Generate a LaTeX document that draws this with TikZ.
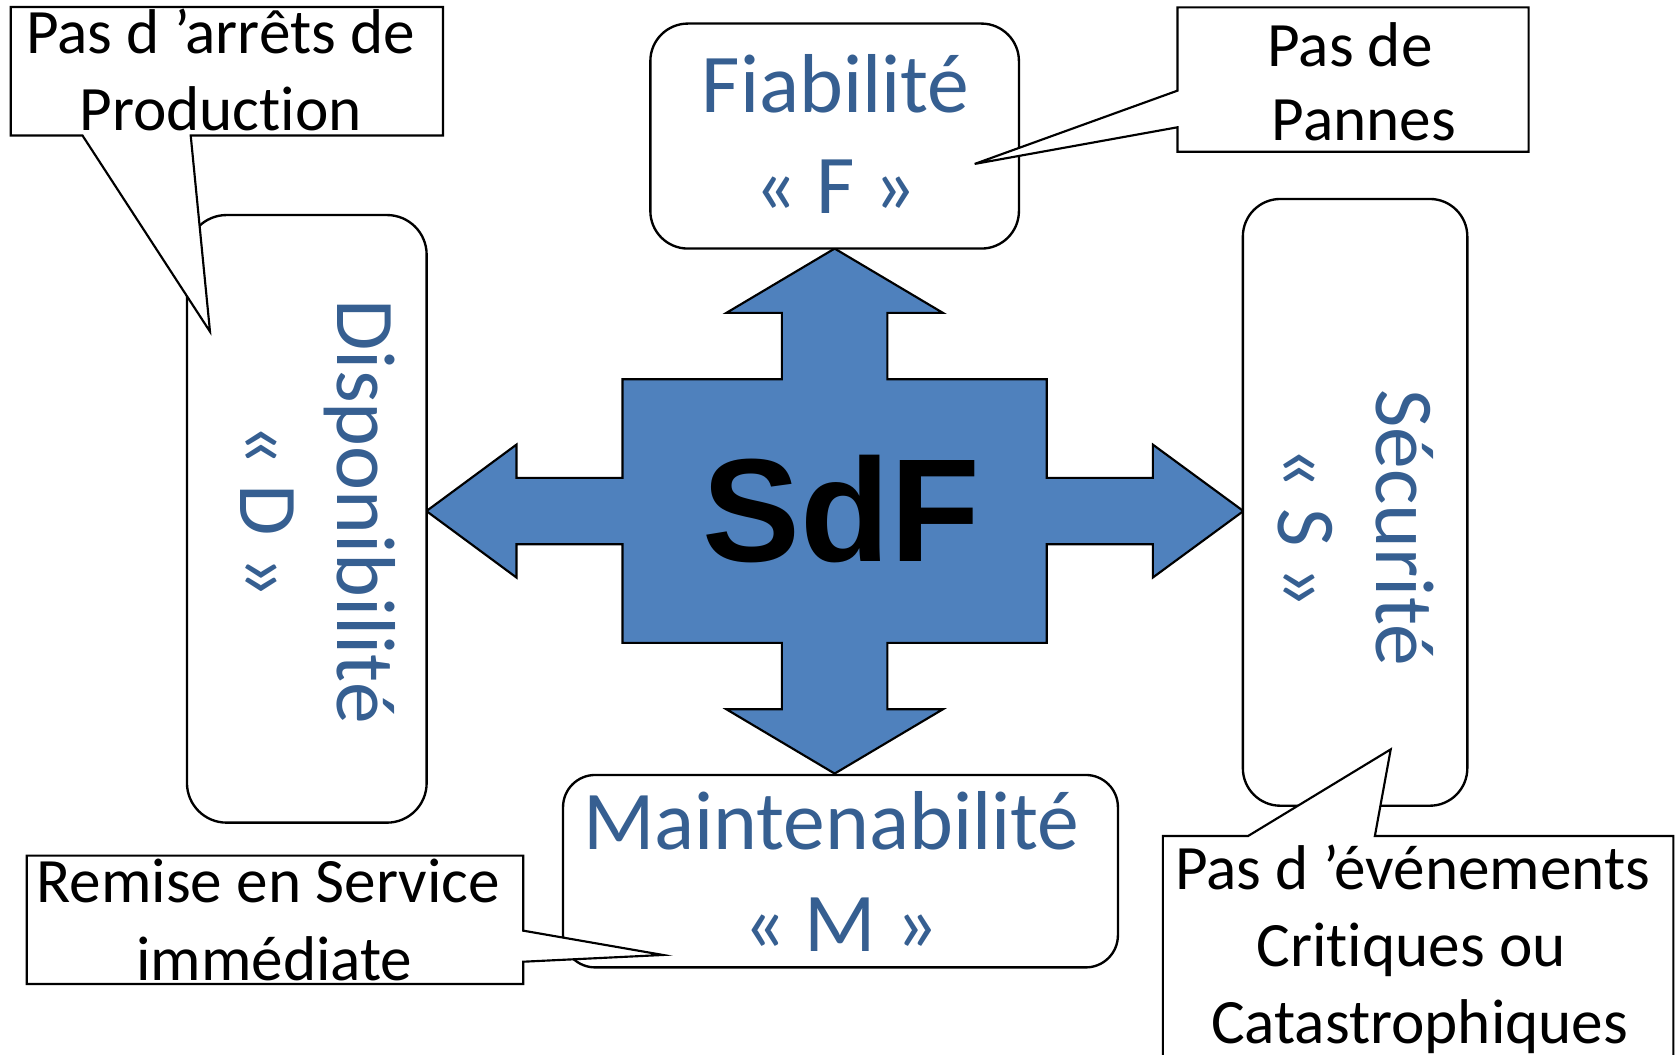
\documentclass[tikz,border=0pt]{standalone}
\usepackage{fontspec}
\setmainfont{Carlito}[Ligatures={NoCommon}]
\newfontfamily\sdffont{Liberation Sans}
\definecolor{arrowblue}{RGB}{79,129,189}
\definecolor{labelblue}{RGB}{54,95,145}
\begin{document}
\begin{tikzpicture}[x=0.5pt,y=-0.5pt,
  rbox/.style={draw=black, line width=1.1pt, fill=white, inner sep=0pt},
  callout/.style={draw=black, line width=1pt, fill=white, line join=miter},
  bigtxt/.style={text=labelblue, inner sep=0pt, anchor=base,
    font=\fontsize{39}{47}\selectfont},
  notetxt/.style={text=black, inner sep=0pt, anchor=base,
    font=\fontsize{29.5}{35.5}\selectfont}]

\useasboundingbox (0,0) rectangle (1568,984);

% four-way arrow around the central block
\begin{scope}[shift={(779,477)}]
  \draw[fill=arrowblue, line width=1pt, line join=miter]
    (0,-245) -- (101,-185) -- (49.25,-185) -- (49.25,-123) -- (198,-123)
    -- (198,-31) -- (297,-31) -- (297,-62) -- (381.5,0) -- (297,62)
    -- (297,31) -- (198,31) -- (198,123) -- (49.25,123) -- (49.25,185)
    -- (101,185) -- (0,245) -- (-101,185) -- (-49.25,185) -- (-49.25,123)
    -- (-198,123) -- (-198,31) -- (-297,31) -- (-297,62) -- (-381,0)
    -- (-297,-62) -- (-297,-31) -- (-198,-31) -- (-198,-123)
    -- (-49.25,-123) -- (-49.25,-185) -- (-101,-185) -- cycle;
\end{scope}
\node[anchor=base, inner sep=0pt,
  font=\sdffont\bfseries\fontsize{68.5}{80}\selectfont] (sdf) at (785,523.7) {SdF};

% the four rounded boxes
\node[rbox, minimum width=172pt, minimum height=105pt, rounded corners=17.5pt]
  (fiab) at (779,127) {};
\node[rbox, minimum width=111.85pt, minimum height=283.55pt, rounded corners=18.5pt]
  (dispo) at (286.35,484.25) {};
\node[rbox, minimum width=104.75pt, minimum height=283.15pt, rounded corners=17.5pt]
  (secu) at (1264.75,468.85) {};
\node[rbox, minimum width=258.95pt, minimum height=89.8pt, rounded corners=15pt]
  (maint) at (784.45,813.1) {};

\node[bigtxt] (fiabA) at (780,105) {Fiabilité};
\node[bigtxt] (fiabB) at (780,199) {« F »};
\node[bigtxt] (maintA) at (776,792.7) {Maintenabilité};
\node[bigtxt] (maintB) at (784.4,888.3) {« M »};
\node[bigtxt, rotate=-90] (dispoA) at (314.8,477.6) {Disponibilité};
\node[bigtxt, rotate=-90] (dispoB) at (224,476.6) {« D »};
\node[bigtxt, rotate=-90] (secuA) at (1285,492.5) {Sécurité};
\node[bigtxt, rotate=-90] (secuB) at (1193,492.5) {« S »};

% callouts
\coordinate (tipA) at (196,309.5);
\draw[callout] (10,6.5) -- (413.5,6.5) -- (413.5,126.5) -- (178,126.5)
  -- (tipA) -- (77,126.5) -- (10,126.5) -- cycle;
\node[notetxt] (noteA1) at (206,50.4) {Pas d ’arrêts de};
\node[notetxt] (noteA2) at (206,122) {Production};

\coordinate (tipB) at (909.7,153);
\draw[callout] (1099,6.9) -- (1426.7,6.9) -- (1426.7,141.6) -- (1099,141.6)
  -- (1099,118.8) -- (tipB) -- (1099,84.6) -- cycle;
\node[notetxt] (noteB1) at (1260,62.5) {Pas de};
\node[notetxt] (noteB2) at (1273,131.3) {Pannes};

\coordinate (tipC) at (618.8,891.3);
\draw[callout] (25,798.6) -- (488.3,798.6) -- (488.3,868.6) -- (tipC)
  -- (488.3,897.6) -- (488.3,918.4) -- (25,918.4) -- cycle;
\node[notetxt] (noteC1) at (250.4,842.5) {Remise en Service};
\node[notetxt] (noteC2) at (256,914.7) {immédiate};

\coordinate (tipD) at (1298,699.4);
\draw[callout] (1085.3,780.3) -- (1164.8,780.3) -- (tipD) -- (1283.2,780.3)
  -- (1561.8,780.3) -- (1561.8,1010) -- (1085.3,1010) -- cycle;
\node[notetxt] (noteD1) at (1318.4,830) {Pas d ’événements};
\node[notetxt] (noteD2) at (1317,902.2) {Critiques ou};
\node[notetxt] (noteD3) at (1325,973.8) {Catastrophiques};
\end{tikzpicture}
\end{document}
